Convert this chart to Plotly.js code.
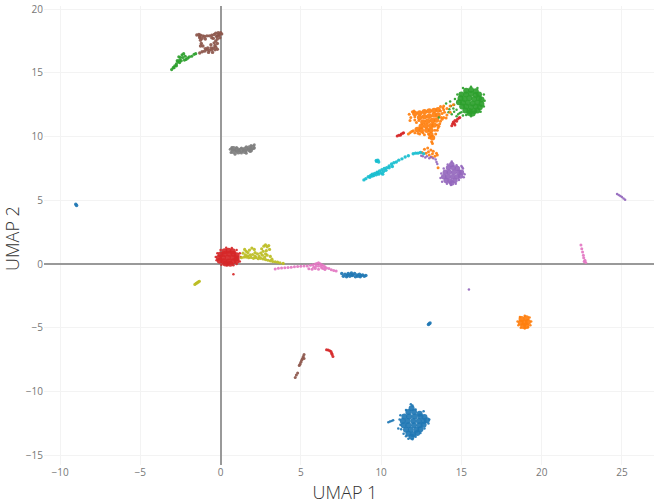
<!DOCTYPE html>
<html><head><meta charset="utf-8">
<script src="https://cdn.plot.ly/plotly-3.0.1.min.js"></script>
<style>html,body{margin:0;padding:0;background:#fff}</style></head>
<body><div id="plot" style="width:654px;height:504px"></div>
<script>
const colors = {blue:'#1f77b4',orange:'#ff7f0e',green:'#2ca02c',red:'#d62728',purple:'#9467bd',brown:'#8c564b',pink:'#e377c2',gray:'#7f7f7f',olive:'#bcbd22',cyan:'#17becf'};

// dense cores
const greenCore = [[15.3,13.6],[15.6,13.65],[15.9,13.55],[15.0,13.3],[15.3,13.3],[15.6,13.35],[15.9,13.25],[16.1,13.3],[14.95,13.0],[15.2,12.95],[15.5,13.0],[15.8,12.95],[16.1,13.0],[16.25,12.9],[14.85,12.7],[15.1,12.65],[15.4,12.65],[15.7,12.6],[16.0,12.65],[16.25,12.55],[15.05,12.35],[15.3,12.35],[15.6,12.3],[15.9,12.35],[16.15,12.3],[15.25,12.05],[15.5,12.0],[15.8,12.0],[16.0,12.05],[15.5,11.85],[15.7,11.8]];
const blueCore = [[11.9,-11.3],[11.7,-11.6],[12.05,-11.6],[12.4,-11.75],[11.45,-11.95],[11.75,-11.95],[12.1,-11.95],[12.45,-11.95],[12.7,-12.0],[11.35,-12.3],[11.65,-12.3],[12.0,-12.3],[12.35,-12.3],[12.65,-12.3],[12.85,-12.25],[11.4,-12.65],[11.7,-12.65],[12.05,-12.65],[12.4,-12.65],[12.65,-12.6],[11.55,-13.0],[11.85,-13.0],[12.2,-13.0],[12.45,-12.95],[11.7,-13.3],[12.0,-13.35],[12.25,-13.25],[11.9,-13.55]];
const redCore = [[0.25,1.0],[0.5,1.05],[0.75,1.0],[0.0,0.75],[0.25,0.78],[0.55,0.8],[0.8,0.8],[1.0,0.7],[-0.1,0.5],[0.15,0.5],[0.45,0.5],[0.75,0.5],[1.0,0.45],[-0.05,0.25],[0.2,0.22],[0.5,0.2],[0.8,0.22],[1.0,0.25],[0.3,0.05],[0.6,0.02]];
const orangeCore = [[12.1,11.8],[12.4,11.85],[12.7,11.95],[13.0,12.0],[13.3,12.05],[13.55,12.1],[12.4,11.5],[12.7,11.55],[13.0,11.6],[13.3,11.7],[13.55,11.7],[12.6,11.15],[12.9,11.2],[13.2,11.25],[13.45,11.3],[12.5,10.8],[12.8,10.85],[13.1,10.85],[13.3,10.9],[12.25,10.55],[12.5,10.5],[12.85,10.5],[13.1,10.5],[13.1,10.15],[13.2,9.9]];
const purpleCore = [[14.4,7.8],[14.2,7.55],[14.5,7.55],[14.75,7.5],[14.0,7.2],[14.25,7.2],[14.55,7.2],[14.85,7.2],[15.0,7.2],[13.9,6.85],[14.15,6.85],[14.45,6.85],[14.75,6.85],[14.95,6.9],[14.05,6.55],[14.3,6.5],[14.6,6.55],[14.4,6.35]];
const orangeSmallCore = [[18.75,-4.3],[19.05,-4.25],[18.7,-4.6],[18.95,-4.6],[19.15,-4.55],[18.85,-4.85],[19.05,-4.85]];
const grayCore = [[0.8,9.05],[1.05,8.95],[1.3,8.95],[1.55,9.0],[1.8,9.1],[2.0,9.15],[0.8,8.85],[1.1,8.8],[1.5,8.85],[1.85,8.95]];

// sparse edges and small islands
const greenEdge = [[14.6,12.95],[14.55,12.5],[14.75,13.3],[15.1,13.8],[15.6,13.9],[16.0,13.8],[16.4,13.3],[16.45,12.8],[16.4,12.35],[16.2,11.95],[15.6,11.6],[15.3,11.7],[15.0,11.9],[14.7,12.1],[14.35,12.4],[14.2,11.9],[14.4,11.75],[14.7,11.6],[14.9,11.85],[14.55,11.95],[13.6,11.5],[14.05,12.6],[14.3,12.75],[14.5,12.2],[14.25,12.15],[14.8,11.75],[15.1,11.65]];
const greenIsland = [[-3.05,15.25],[-2.95,15.4],[-2.85,15.55],[-2.9,15.4],[-2.75,15.7],[-2.65,15.85],[-2.55,16.0],[-2.7,15.95],[-2.5,16.2],[-2.4,16.4],[-2.3,16.5],[-2.35,16.2],[-2.2,16.3],[-2.15,16.05],[-2.05,16.15],[-1.95,16.25],[-1.8,16.3],[-1.65,16.45],[-1.55,16.5],[-2.55,15.8],[-2.25,16.0],[-2.6,16.25],[-2.45,15.95],[-2.75,15.55]];
const blueEdge = [[11.85,-11.0],[11.95,-11.1],[12.15,-11.4],[11.55,-11.45],[12.65,-11.55],[11.2,-11.85],[11.15,-12.2],[13.0,-12.2],[12.95,-12.5],[11.2,-12.6],[11.25,-12.95],[12.7,-12.9],[11.4,-13.3],[12.45,-13.25],[11.55,-13.5],[12.15,-13.55],[11.7,-13.7],[11.95,-13.74],[10.45,-12.4],[10.55,-12.35],[10.65,-12.3],[10.75,-12.25],[11.07,-12.9]];
const blueSmall = [[7.55,-0.75],[7.65,-0.95],[7.75,-0.8],[7.85,-1.0],[7.95,-0.75],[8.05,-0.95],[8.15,-0.7],[8.2,-0.9],[8.35,-0.75],[8.4,-1.0],[8.5,-0.85],[8.65,-0.8],[8.7,-1.0],[8.85,-0.85],[8.95,-0.95],[9.05,-0.9],[8.25,-0.85],[8.55,-0.95],[7.9,-0.88],[8.1,-0.82],[8.75,-0.9],[-9.02,4.7],[-8.97,4.6],[12.95,-4.75],[13.0,-4.68],[13.05,-4.62]];
const redEdge = [[-0.3,0.55],[-0.25,0.3],[-0.2,0.85],[0.0,1.1],[0.35,1.27],[0.7,1.25],[1.0,1.1],[1.2,0.85],[1.25,0.55],[1.2,0.2],[1.0,0.0],[0.8,-0.1],[0.4,-0.12],[0.05,-0.05],[0.8,-0.8]];
const redBits = [[14.4,10.85],[14.45,11.0],[14.55,11.05],[14.6,10.9],[14.6,11.25],[14.7,11.2],[14.75,11.35],[14.85,11.45],[14.9,11.5],[14.5,11.15],[11.0,10.05],[11.1,10.1],[11.2,10.1],[11.25,10.2],[11.35,10.25],[11.4,10.3],[6.6,-6.72],[6.7,-6.75],[6.8,-6.8],[6.88,-6.85],[6.92,-7.0],[6.95,-7.1],[7.0,-7.25]];
const orangeEdge = [[11.8,10.3],[11.9,10.4],[12.0,10.45],[11.7,10.2],[12.1,10.3],[11.85,11.5],[11.8,11.25],[11.75,11.75],[12.1,11.3],[12.2,11.1],[13.9,12.1],[14.1,12.2],[14.3,12.4],[14.5,12.5],[13.8,11.8],[13.9,11.5],[14.1,11.7],[14.3,11.9],[13.7,11.2],[13.6,10.8],[13.5,10.5],[12.4,10.2],[12.7,10.15],[13.0,9.9],[13.4,10.2],[13.15,9.6],[13.2,9.45],[13.7,12.35],[13.9,12.4],[13.75,11.5],[13.95,11.9],[13.7,12.0],[13.8,11.35],[13.65,11.0],[13.5,10.9],[13.35,10.5],[12.1,11.55],[12.35,11.25],[12.05,12.0],[12.3,10.25],[12.6,10.3],[12.95,10.2],[11.95,11.95],[13.85,12.25],[14.05,11.45],[13.55,10.7],
  [12.55,8.75],[12.7,9.0],[12.8,8.7],[12.9,9.1],[12.95,8.8],[13.0,8.55],[13.1,8.95],[13.2,8.65],[13.25,8.85],[13.35,8.45],[13.45,8.7],[13.5,8.55],[13.55,7.55],[13.15,8.4]];
const orangeSmallEdge = [[18.65,-4.15],[18.95,-4.05],[19.25,-4.2],[19.35,-4.5],[18.5,-4.5],[18.55,-4.8],[19.3,-4.8],[18.7,-5.0],[18.95,-5.05],[19.15,-4.95]];
const purpleEdge = [[14.4,8.05],[14.15,7.8],[14.7,7.75],[15.0,7.7],[15.1,7.5],[13.9,7.5],[13.75,7.1],[15.2,7.05],[15.15,6.8],[13.7,6.75],[13.8,6.45],[14.1,6.3],[14.35,6.2],[14.65,6.3],[14.85,6.6],[15.05,7.6],
  [12.5,8.5],[12.6,8.45],[12.75,8.35],[12.85,8.45],[13.0,8.3],[13.1,8.4],[13.25,8.3],[13.4,8.2],[13.45,8.0],[13.5,7.85],
  [15.47,-2.0],[24.7,5.5],[24.8,5.42],[24.9,5.33],[25.0,5.25],[25.1,5.15],[25.2,5.05]];
const brownIsland = [[-1.48,17.97],[-1.35,18.0],[-1.25,17.95],[-1.1,17.9],[-1.0,17.85],[-0.85,17.9],[-0.7,17.9],[-0.55,17.95],[-0.4,18.0],[-0.3,18.1],[-0.15,18.15],[0.0,18.15],[0.07,18.05],[-0.1,17.95],[-0.25,17.85],[-0.05,17.75],[-0.2,17.65],[-0.3,17.5],[-0.4,17.35],[-0.35,17.15],[-0.3,17.0],[-0.45,16.95],[-0.35,16.8],[-0.55,16.8],[-0.7,16.75],[-0.85,16.8],[-1.0,16.7],[-1.15,16.65],[-1.3,16.55],[-0.75,16.6],[-0.5,16.6],[-1.3,17.75],[-1.25,17.55],[-1.2,17.3],[-1.1,17.1],[-1.3,17.85],[-0.95,17.65],[-0.6,17.2],[-0.2,17.9],[-0.45,17.7],[-0.6,16.95],[-0.95,16.9],[-1.15,17.7],[-0.55,17.75],[-0.2,17.3],[-1.25,17.1],[-0.2,16.85],[-0.8,16.95],[-0.1,18.0]];
const brownBits = [[5.2,-7.1],[5.15,-7.25],[5.1,-7.4],[5.05,-7.55],[5.0,-7.7],[4.95,-7.85],[4.9,-7.95],[5.2,-7.4],[4.8,-8.55],[4.72,-8.7],[4.65,-8.9]];
const pinkPts = [[3.4,-0.38],[3.6,-0.32],[3.8,-0.3],[4.0,-0.28],[4.2,-0.27],[4.4,-0.25],[4.6,-0.22],[4.8,-0.2],[5.0,-0.18],[5.2,-0.16],[5.4,-0.16],[5.6,-0.1],[5.75,-0.05],[5.9,0.0],[6.0,0.05],[6.1,0.1],[6.2,0.02],[6.3,-0.05],[6.4,-0.12],[6.5,-0.22],[6.6,-0.3],[6.75,-0.35],[6.9,-0.45],[7.05,-0.5],[7.2,-0.55],[5.5,-0.36],[5.7,-0.4],[5.9,-0.35],[6.1,-0.4],[6.3,-0.3],[6.5,-0.42],[6.1,-0.15],[5.95,-0.18],[6.25,-0.18],[5.8,-0.25],[6.4,-0.35],
  [22.45,1.5],[22.5,1.2],[22.55,0.95],[22.6,0.7],[22.62,0.5],[22.7,0.3],[22.75,0.12],[22.65,0.2]];
const grayEdge = [[0.6,9.0],[0.7,9.15],[1.0,9.15],[1.3,9.1],[1.6,9.2],[1.9,9.3],[2.1,9.36],[2.1,9.1],[1.85,8.85],[1.3,8.72],[0.9,8.62],[1.6,8.7],[0.65,8.75]];
const olivePts = [[1.3,0.5],[1.45,0.55],[1.6,0.55],[1.75,0.5],[1.9,0.52],[2.05,0.45],[2.2,0.5],[2.35,0.42],[2.5,0.45],[2.65,0.4],[2.8,0.35],[2.95,0.3],[3.1,0.25],[3.25,0.2],[3.4,0.18],[3.55,0.15],[3.7,0.1],[3.9,0.05],[1.5,1.15],[1.6,1.0],[1.7,0.9],[1.8,1.1],[1.95,1.25],[2.1,1.15],[2.15,0.9],[2.56,1.2],[2.65,1.0],[2.7,1.4],[2.8,1.5],[2.9,1.35],[3.0,1.45],[3.05,1.15],[2.85,1.05],[1.4,0.85],[2.0,0.75],[2.3,0.8],[2.6,0.7],[2.9,0.7],[3.1,0.6],[1.7,0.65],[2.4,0.6],[1.55,0.72],[2.15,0.62],[2.75,0.55],[3.2,0.38],[1.85,0.72],[2.5,0.85],[2.8,0.8],
  [-1.6,-1.6],[-1.52,-1.52],[-1.45,-1.46],[-1.38,-1.4],[-1.32,-1.35]];
const cyanPts = [[8.93,6.6],[9.05,6.7],[9.2,6.85],[9.35,6.95],[9.45,7.05],[9.6,7.1],[9.55,6.95],[9.75,7.2],[9.9,7.3],[9.85,7.05],[10.0,7.15],[10.15,7.25],[10.05,7.4],[10.2,7.5],[10.35,7.55],[10.5,7.7],[10.65,7.85],[10.8,7.95],[10.95,8.0],[11.1,8.15],[11.3,8.25],[11.5,8.4],[11.7,8.5],[12.0,8.65],[12.15,8.7],[12.3,8.7],[12.45,8.75],[12.65,8.65],[9.72,8.05],[9.8,8.15],[9.7,8.12],[9.85,8.0],[10.5,7.55],[10.7,7.65],[9.3,6.8],[9.7,7.0],[9.45,6.9],[9.8,7.15],[10.1,7.05],[10.3,7.35]];

const groups = [
  [greenCore,colors.green,6],[blueCore,colors.blue,6],[orangeCore,colors.orange,5.5],[purpleCore,colors.purple,5.5],[redCore,colors.red,6],[orangeSmallCore,colors.orange,6],[grayCore,colors.gray,5.5],
  [greenEdge,colors.green,2.5],[greenIsland,colors.green,3.2],[blueEdge,colors.blue,2.5],[blueSmall,colors.blue,3.5],[redEdge,colors.red,2.5],[redBits,colors.red,3],[orangeEdge,colors.orange,3],[orangeSmallEdge,colors.orange,2.5],[purpleEdge,colors.purple,2.5],[brownIsland,colors.brown,3.4],[brownBits,colors.brown,3],[pinkPts,colors.pink,3],[grayEdge,colors.gray,3],[olivePts,colors.olive,3.2],[cyanPts,colors.cyan,3.4]
];
const traces = groups.map(([pts,color,size])=>({
  type:'scatter',mode:'markers',
  x:pts.map(p=>p[0]),y:pts.map(p=>p[1]),
  marker:{color:color,size:size,opacity:0.92,line:{width:0}},hoverinfo:'skip'
}));
const tickFont = {family:'"Open Sans",sans-serif',color:'#777',size:10};
const titleFont = {family:'"Open Sans",sans-serif',size:18,weight:300,color:'#333'};
const axisCommon = {showgrid:true,gridcolor:'#f3f3f3',gridwidth:1,zeroline:true,zerolinecolor:'#999',zerolinewidth:2,showline:false,ticks:'',tickfont:tickFont};
Plotly.newPlot('plot',traces,{
  width:654,height:504,showlegend:false,paper_bgcolor:'#fff',plot_bgcolor:'#fff',
  margin:{l:44,r:0,t:6,b:39},
  font:{family:'"Open Sans",sans-serif'},
  xaxis:Object.assign({},axisCommon,{range:[-11,27],tickvals:[-10,-5,0,5,10,15,20,25],title:{text:'UMAP 1',font:titleFont,standoff:10}}),
  yaxis:Object.assign({},axisCommon,{range:[-15.76,20.24],tickvals:[-15,-10,-5,0,5,10,15,20],title:{text:'UMAP 2',font:titleFont,standoff:3}})
},{staticPlot:true}).then(()=>{
  // the reference centres its axis titles a little off the plot centre
  const nudge = (sel,dx,dy)=>{const el=document.querySelector(sel); if(el) el.setAttribute('transform',`translate(${dx},${dy}) `+(el.getAttribute('transform')||''));};
  nudge('.xtitle',-4,0);
  nudge('.ytitle',0,3);
});
</script></body></html>
